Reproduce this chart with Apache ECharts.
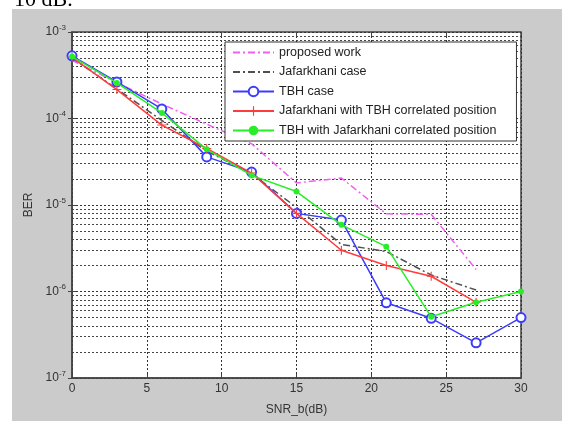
<!DOCTYPE html>
<html>
<head>
<meta charset="utf-8">
<script src="https://cdn.jsdelivr.net/npm/echarts@6/dist/echarts.min.js"></script>
<style>
html,body{margin:0;padding:0;background:#fff;}
#c{width:562px;height:421px;}
</style>
</head>
<body>
<div id="c"></div>
<script>
var snr = [0, 3, 6, 9, 12, 15, 18, 21, 24, 27, 30];
var proposedWork = [4.7e-4, 2.6e-4, 1.47e-4, 8.6e-5, 5.1e-5, 1.8e-5, 2.05e-5, 7.9e-6, 7.8e-6, 1.8e-6, null];
var jafarkhaniCase = [5.0e-4, 2.2e-4, 9.5e-5, 4.2e-5, 2.3e-5, 9.4e-6, 3.5e-6, 2.9e-6, 1.55e-6, 1.04e-6, null];
var tbhCase = [5.3e-4, 2.65e-4, 1.29e-4, 3.6e-5, 2.4e-5, 8.0e-6, 6.7e-6, 7.4e-7, 4.9e-7, 2.55e-7, 5.0e-7];
var jafWithTbh = [5.1e-4, 2.16e-4, 8.4e-5, 4.5e-5, 2.34e-5, 8.0e-6, 3.0e-6, 2.0e-6, 1.5e-6, 7.5e-7, null];
var tbhWithJaf = [5.2e-4, 2.58e-4, 1.16e-4, 4.4e-5, 2.2e-5, 1.43e-5, 5.9e-6, 3.3e-6, 5.1e-7, 7.5e-7, 1.0e-6];
var seriesNames = ['proposed work', 'Jafarkhani case', 'TBH case', 'Jafarkhani with TBH correlated position', 'TBH with Jafarkhani correlated position'];
var minorFactors = [2, 3, 4, 5, 6, 7, 8, 9];
var decadeExps = [-7, -6, -5, -4];
var xRange = [0, 30];

function pairs(vals) {
  return snr.map(function (x, i) { return [x, vals[i]]; });
}
var minorGrid = [];
decadeExps.forEach(function (d) {
  minorFactors.forEach(function (k) {
    var v = k * Math.pow(10, d);
    minorGrid.push({ coords: [[xRange[0], v], [xRange[1], v]] });
  });
});

var chart = echarts.init(document.getElementById('c'), null, { renderer: 'canvas' });
var axisColor = '#333';
var dashDot = [7, 3, 2, 3];
var gridDash = [2, 2];
var font = 'Liberation Sans, Arial';
var option = {
  animation: false,
  backgroundColor: 'transparent',
  graphic: {
    elements: [
      { type: 'rect', z: -100, shape: { x: 12, y: 9, width: 560, height: 420 }, style: { fill: '#cbcbcb' } },
      { type: 'text', z: -50, style: { text: '10 dB.', x: 14, y: 11, fill: '#000', font: '22px "Liberation Serif"', verticalAlign: 'bottom' } }
    ]
  },
  grid: { left: 72, top: 32, right: 41, bottom: 34, show: true, backgroundColor: '#fff', borderColor: '#444', borderWidth: 1.5 },
  legend: {
    orient: 'vertical',
    left: 225,
    top: 42,
    data: [
      { name: seriesNames[0], itemStyle: { opacity: 0 } },
      { name: seriesNames[1], itemStyle: { opacity: 0 } },
      { name: seriesNames[2] },
      { name: seriesNames[3] },
      { name: seriesNames[4] }
    ],
    backgroundColor: '#fff',
    borderColor: '#333',
    borderWidth: 1,
    padding: [4, 20, 4, 7],
    itemGap: 6.5,
    itemWidth: 41,
    itemHeight: 12,
    textStyle: { fontFamily: font, fontSize: 12.5, color: '#222' }
  },
  xAxis: [{
    type: 'value', min: xRange[0], max: xRange[1], interval: 5,
    name: 'SNR_b(dB)', nameLocation: 'middle', nameGap: 26,
    nameTextStyle: { fontFamily: font, fontSize: 12, color: axisColor },
    axisLine: { show: true, onZero: false, lineStyle: { color: '#444', width: 1.5 } },
    axisTick: { inside: true, length: 4, lineStyle: { color: '#444' } },
    axisLabel: { fontFamily: font, fontSize: 12, color: axisColor, margin: 5 },
    splitLine: { show: true, lineStyle: { type: gridDash, color: '#333', width: 1 } }
  }, {
    type: 'value', min: xRange[0], max: xRange[1], interval: 5, position: 'top',
    axisLine: { show: false },
    axisTick: { inside: true, length: 4, lineStyle: { color: '#444' } },
    axisLabel: { show: false }, splitLine: { show: false }
  }],
  yAxis: [{
    type: 'log', logBase: 10, min: 1e-7, max: 1e-3,
    name: 'BER', nameLocation: 'middle', nameGap: 36, nameRotate: 90,
    nameTextStyle: { fontFamily: font, fontSize: 12, color: axisColor },
    axisLine: { show: true, lineStyle: { color: '#444', width: 1.5 } },
    axisTick: { inside: true, length: 4, lineStyle: { color: '#444' } },
    axisLabel: {
      margin: 6,
      formatter: function (v) {
        var e = Math.round(Math.log10(v));
        return '{b|10}{s|' + e + '}';
      },
      rich: {
        b: { fontFamily: font, fontSize: 12, color: axisColor },
        s: { fontFamily: font, fontSize: 8, color: axisColor, padding: [0, 0, 9, 0] }
      }
    },
    splitLine: { show: true, lineStyle: { type: gridDash, color: '#333', width: 1 } }
  }, {
    type: 'log', logBase: 10, min: 1e-7, max: 1e-3, position: 'right',
    axisLine: { show: false },
    axisTick: { inside: true, length: 4, lineStyle: { color: '#444' } },
    axisLabel: { show: false }, splitLine: { show: false }
  }],
  series: [
    {
      name: 'minorGrid', type: 'lines', coordinateSystem: 'cartesian2d', xAxisIndex: 0, yAxisIndex: 0,
      silent: true, z: 1, data: minorGrid,
      lineStyle: { type: gridDash, color: '#444', width: 1, opacity: 1 }
    },
    {
      name: seriesNames[0], type: 'line', data: pairs(proposedWork), showSymbol: false, symbol: 'none',
      lineStyle: { color: '#f060f0', width: 1.5, type: dashDot }, itemStyle: { color: '#f060f0' }, z: 3
    },
    {
      name: seriesNames[1], type: 'line', data: pairs(jafarkhaniCase), showSymbol: false, symbol: 'none',
      lineStyle: { color: '#505050', width: 1.5, type: dashDot }, itemStyle: { color: '#505050' }, z: 3
    },
    {
      name: seriesNames[2], type: 'line', data: pairs(tbhCase), symbol: 'emptyCircle', symbolSize: 9,
      lineStyle: { color: '#3c3cff', width: 1.5 }, itemStyle: { color: '#3c3cff', borderWidth: 1.5 }, z: 4
    },
    {
      name: seriesNames[3], type: 'line', data: pairs(jafWithTbh),
      symbol: 'path://M-0.6,-5H0.6V-0.6H5V0.6H0.6V5H-0.6V0.6H-5V-0.6H-0.6Z', symbolSize: 9,
      lineStyle: { color: '#ff3c3c', width: 1.5 }, itemStyle: { color: '#ff3c3c' }, z: 5
    },
    {
      name: seriesNames[4], type: 'line', data: pairs(tbhWithJaf), symbol: 'circle', symbolSize: 6,
      lineStyle: { color: '#28ee28', width: 1.5 }, itemStyle: { color: '#28ee28' }, z: 6
    }
  ]
};
chart.setOption(option);
</script>
</body>
</html>
